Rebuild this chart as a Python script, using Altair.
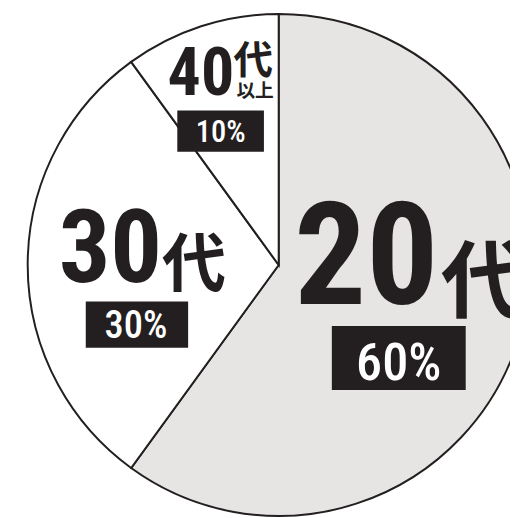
import altair as alt
import pandas as pd

categories = ["20代", "30代", "40代以上"]
values = [60, 30, 10]
pct_labels = ["60%", "30%", "10%"]
order = [1, 2, 3]

df = pd.DataFrame({"cat": categories, "value": values, "pct": pct_labels, "order": order})

INK = "#231f20"
NUM_FONT = "Roboto Condensed"
CJK_FONT = "Noto Sans CJK JP"
CX, CY = 275, 257

base = alt.Chart(df)

pie = base.mark_arc(outerRadius=255, stroke=INK, strokeWidth=2).encode(
    theta=alt.Theta("value:Q", stack=True),
    order=alt.Order("order:Q"),
    color=alt.Color("cat:N", scale=alt.Scale(domain=categories,
                    range=["#e7e5e3", "#ffffff", "#ffffff"]), legend=None),
    x=alt.value(CX), y=alt.value(CY),
)

def num_text(cat, x, y, size):
    return base.transform_filter(alt.datum.cat == cat).transform_calculate(
        num="slice(datum.cat, 0, 2)"
    ).mark_text(font=NUM_FONT, fontWeight="bold", fontSize=size, color=INK,
                align="center", baseline="alphabetic").encode(
        text="num:N", x=alt.value(x), y=alt.value(y))

def kanji(cat, txt, x, y, size):
    return base.transform_filter(alt.datum.cat == cat).transform_calculate(
        k=f"'{txt}'"
    ).mark_text(font=CJK_FONT, fontWeight="bold", fontSize=size, color=INK,
                align="center", baseline="alphabetic").encode(
        text="k:N", x=alt.value(x), y=alt.value(y))

def box(cat, x1, x2, y1, y2):
    return base.transform_filter(alt.datum.cat == cat).mark_rect(color=INK).encode(
        x=alt.value(x1), x2=alt.value(x2), y=alt.value(y1), y2=alt.value(y2))

def pct_text(cat, x, y, size):
    return base.transform_filter(alt.datum.cat == cat).mark_text(
        font=NUM_FONT, fontWeight=500, fontSize=size, color="#ffffff",
        align="center", baseline="alphabetic").encode(
        text="pct:N", x=alt.value(x), y=alt.value(y))

layers = [
    pie,
    # 20代
    num_text("20代", 364, 297, 145),
    kanji("20代", "代", 483, 304, 86),
    box("20代", 329, 465, 319, 384),
    pct_text("20代", 397, 374, 53),
    # 30代
    num_text("30代", 104, 274, 104),
    kanji("30代", "代", 189, 278, 65),
    box("30代", 79, 183, 294, 341),
    pct_text("30代", 130, 331, 39),
    # 40代以上
    num_text("40代以上", 196, 84, 67),
    kanji("40代以上", "代", 249, 63, 40),
    kanji("40代以上", "以上", 251, 86, 19),
    box("40代以上", 172, 260, 100, 142),
    pct_text("40代以上", 216, 132, 31),
]

chart = alt.layer(*layers).properties(
    width=510, height=510, padding=0, autosize="none"
).configure_view(stroke=None)

chart.save("out.html", embed_options={"renderer": "svg", "actions": False})
